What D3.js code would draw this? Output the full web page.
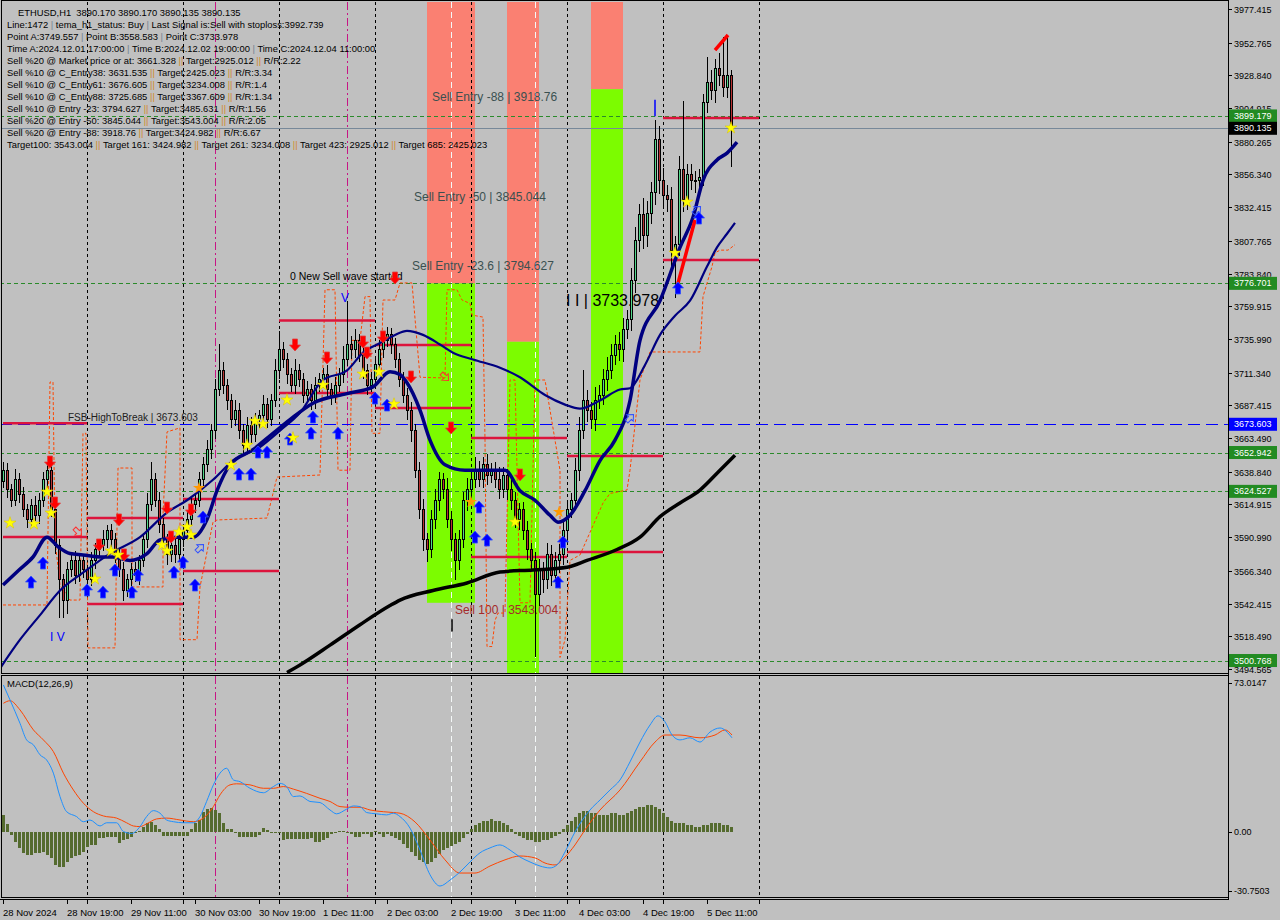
<!DOCTYPE html>
<html><head><meta charset="utf-8">
<script src="https://cdn.jsdelivr.net/npm/d3@7"></script>
<style>
body{margin:0;background:#c0c0c0;}
svg{display:block;font-family:"Liberation Sans",Arial,sans-serif;}
</style></head>
<body><svg id="c" width="1280" height="920"></svg>
<script>
// ---------------- DATA ----------------
const timeLabels=['28 Nov 2024','28 Nov 19:00','29 Nov 11:00','30 Nov 03:00','30 Nov 19:00','1 Dec 11:00','2 Dec 03:00','2 Dec 19:00','3 Dec 11:00','4 Dec 03:00','4 Dec 19:00','5 Dec 11:00'];
const timeLabelBars=[0,16,32,48,64,80,96,112,128,144,160,176];
const daySepBars=[21,45,69,93,117,141,165,189];
const magentaBars=[53,86];
const whiteBars=[112,133];
const priceTicks=[3977.415,3952.765,3928.840,3904.915,3880.265,3856.340,3832.415,3807.765,3783.840,3759.915,3735.990,3711.340,3687.415,3663.490,3638.840,3614.915,3590.990,3566.340,3542.415,3518.490,3494.565];
const macdTicks=[73.0147,0,-30.7503];
const macdTickLabels=['73.0147','0.00','-30.7503'];

const firstOpen=3632;
const closes=[3640,3626,3618,3633,3622,3611,3604,3614,3607,3618,
3633,3640,3611,3585,3560,3545,3567,3574,3563,3574,
3567,3560,3574,3582,3585,3589,3596,3589,3578,3567,
3552,3560,3567,3563,3574,3589,3615,3633,3618,3600,
3589,3578,3585,3578,3589,3596,3604,3615,3618,3633,
3644,3655,3669,3699,3713,3702,3691,3677,3684,3669,
3658,3673,3666,3677,3680,3688,3677,3691,3713,3728,
3721,3710,3702,3713,3706,3695,3699,3691,3702,3706,
3710,3699,3695,3702,3710,3721,3732,3728,3735,3724,
3713,3702,3706,3717,3728,3735,3739,3732,3721,3706,
3695,3684,3669,3640,3611,3589,3582,3604,3618,3633,
3626,3604,3589,3574,3589,3618,3626,3633,3640,3633,
3644,3636,3640,3633,3626,3636,3626,3618,3604,3611,
3596,3582,3574,3549,3567,3560,3578,3563,3574,3578,
3596,3611,3618,3640,3669,3691,3684,3677,3691,3695,
3706,3713,3724,3732,3728,3743,3750,3779,3808,3827,
3812,3828,3843,3882,3852,3841,3838,3801,3805,3860,
3838,3856,3852,3852,3854,3909,3924,3918,3934,3929,
3920,3929,3890.135];
const upWick=[6,5,4,8,5,6,4,5,7,5,
6,6,4,5,5,4,6,5,7,5,
5,4,6,5,5,7,4,5,5,4,
6,4,5,6,4,5,8,13,5,6,
5,4,6,5,5,4,6,5,5,6,
6,7,5,8,19,6,5,5,7,5,
5,6,6,5,4,7,5,5,8,14,
6,5,5,8,5,5,6,4,6,5,
5,7,5,6,5,10,32,6,8,5,
6,5,6,5,7,6,6,5,5,5,
6,5,6,5,6,8,5,7,8,6,
5,8,6,5,7,6,8,6,10,7,
6,8,5,6,9,6,5,8,6,5,
6,7,5,6,8,6,9,7,6,8,
7,6,5,9,10,22,8,6,10,7,
8,10,8,7,9,8,7,9,10,8,
12,9,8,14,10,9,8,9,6,10,
50,8,8,7,6,6,18,9,7,11,
28,28,4];
const downWick=[5,6,5,4,6,5,6,5,4,6,
5,6,5,6,28,13,10,5,6,5,
6,5,5,6,5,4,6,5,6,5,
8,5,6,5,7,5,6,5,5,6,
5,7,5,6,5,5,6,5,6,5,
6,5,7,6,5,6,7,6,5,6,
7,5,6,5,6,5,6,5,5,6,
6,7,5,6,5,6,5,7,6,5,
6,5,7,6,5,6,5,7,6,5,
6,7,5,6,5,6,5,7,6,5,
6,7,8,6,7,8,9,6,7,8,
7,6,8,14,7,6,8,7,6,5,
6,7,5,6,7,6,8,7,6,8,
7,8,6,46,8,10,7,8,6,9,
7,8,6,7,8,6,9,7,8,6,
7,8,6,7,8,9,7,8,9,8,
10,9,8,9,10,8,9,17,35,8,
9,8,7,9,8,6,8,7,9,8,
7,8,28];

// moving averages: [bar, price]
const fastMA=[[0,3556],[4,3567],[7.5,3576.5],[11,3591],[13.75,3584],[16.75,3579],[20,3578],[24.25,3576.5],[27.5,3576.5],[31.75,3574],[36,3579],[39.25,3589],[43.5,3591],[47.5,3591],[51,3604],[53.5,3625],[56.75,3644],[62.5,3655],[67.5,3667],[71.75,3677],[77.5,3689],[86,3696],[92.5,3701],[96.75,3712],[99.25,3710],[101,3704],[104.25,3684],[106.75,3662],[110.5,3644],[115.5,3640],[120.5,3640],[125.5,3640],[129.25,3625],[133,3618],[136.75,3607],[138.75,3602],[141.75,3607],[145.5,3625],[149.25,3647],[153,3662],[156.75,3691],[159.25,3735],[164.25,3764],[169.25,3803],[172.5,3825],[175,3852],[178.5,3867],[181,3872],[183.5,3880]];
const slowMA=[[-0.75,3495],[4.25,3516],[9.25,3534],[14.25,3552],[20,3565],[26.75,3579],[34.25,3591],[41,3609],[46,3618],[52.5,3633],[57.5,3647],[64.25,3657],[69.25,3669],[74.25,3682],[80,3706],[86,3713],[90,3726],[94.25,3733],[98,3739],[101,3742],[105,3739],[109.25,3732],[112.5,3726],[117.5,3721],[124.25,3715],[129.25,3708],[135.5,3695],[140.5,3688],[144.25,3685],[149.25,3691],[154.25,3699],[156.75,3700],[160.5,3717],[164.25,3739],[168,3753],[171.75,3764],[176,3789],[178.5,3803],[181,3813],[183,3821]];
const ma200=[[71,3492],[74.25,3497.5],[81.75,3512],[89.25,3527],[96.75,3541],[99.25,3545],[107.5,3552],[116,3557.5],[124.25,3565.5],[132.5,3567],[141,3569],[146,3574],[153.5,3582],[159.25,3591],[164.25,3606],[169.25,3616],[174.25,3625.5],[179.25,3640],[183,3651]];
const orangeStep=[[0,3541.4],[11,3541.4],[11.75,3704.5],[12.5,3704.5],[13,3589],[14.25,3556],[16.75,3545],[19.25,3545],[20,3667],[20.75,3667],[21.25,3510],[28,3510],[28.75,3641.6],[32.25,3641.6],[32.25,3554.6],[40,3554.6],[40,3607],[41,3668],[44.25,3671],[44.25,3516],[48.5,3516],[49.25,3554.6],[52.5,3602],[53.5,3603.6],[66,3605],[68.5,3635],[79.25,3636.5],[80.5,3772],[83,3772],[83.75,3640],[86.75,3640],[87.25,3735],[89.25,3735],[90.5,3767],[91.75,3767],[92.25,3667],[94.25,3667],[95,3764.5],[98,3764.5],[99.25,3777],[102.25,3777],[104.25,3708],[110.5,3707.5],[111,3772],[113.5,3772],[114.75,3764.5],[116.75,3762],[117.25,3753.5],[120,3752],[120.5,3662],[121,3511],[122.25,3511],[123,3530],[123.75,3535.5],[125.5,3535.5],[126.75,3706],[128,3706],[129.25,3543],[131.75,3543],[133,3706],[135.5,3706],[139.25,3640],[139.25,3503],[140.5,3516],[141.75,3574],[144.25,3578],[149.25,3611],[150,3616],[151.75,3623],[156,3625.5],[156.75,3640],[159.25,3706],[161.75,3726.5],[174.25,3726.5],[175,3767],[177.25,3789],[178,3799],[179.25,3801],[181.25,3801],[183,3805]];

// MACD
const macdHist=[7.8,3.5,-1.7,-4.7,-7.8,-10.2,-11.0,-11.0,-10.2,-10.2,
-9.5,-11.0,-12.5,-15.7,-16.5,-16.5,-14.1,-12.5,-11.5,-11.0,
-9.5,-7.1,-6.3,-6.3,-3.2,-3.2,-2.4,-2.4,-2.4,-5.2,
-4.0,-3.7,-2.4,-0.5,0.2,2.3,3.8,4.6,3.1,1.0,
-1.9,-1.9,-1.9,-1.9,-1.9,-1.9,-1.9,1.0,3.8,5.4,
9.3,10.4,10.9,10.1,8.6,3.8,1.2,1.2,-0.5,-2.4,
-2.4,-2.4,-2.4,-2.4,-1.7,1.5,0.9,0.0,-0.5,-0.5,
-4.0,-3.7,-3.5,-3.5,-3.7,-3.7,-3.7,-2.9,-4.7,-4.7,
-4.0,-3.2,-1.0,0.0,0.3,0.4,-0.4,-1.0,-2.4,-2.4,
-1.3,-1.3,-2.4,0.4,-1.0,-2.4,-1.0,-2.2,-2.9,-3.9,
-5.8,-7.7,-9.6,-11.5,-13.4,-14.4,-15.4,-14.4,-12.5,-10.6,
-8.7,-7.7,-6.7,-5.8,-4.8,-2.9,-1.0,1.0,2.9,3.9,
4.8,4.8,5.8,4.8,4.8,3.9,2.9,1.0,-1.0,-1.9,
-2.9,-3.9,-3.9,-4.8,-4.8,-3.9,-3.9,-2.9,-1.9,-1.0,
1.0,2.9,4.8,6.7,8.7,9.6,9.6,8.7,8.7,7.7,
7.7,7.7,8.7,8.7,7.7,7.7,8.7,9.6,10.6,11.5,
11.5,12.5,12.5,11.5,10.6,8.7,6.7,4.8,3.9,3.9,
3.9,2.9,2.9,1.9,1.9,2.9,2.9,3.9,3.9,3.9,
2.9,2.9,1.9];
const macdLine=[[0.1,68.8],[1.75,61.8],[4.25,50.8],[5.9,43.0],[7.6,40.7],[9.25,36.0],[10.9,33.6],[12.6,27.4],[14.25,16.4],[15.9,9.3],[18.4,7.0],[20.1,4.6],[21.75,5.4],[24.25,2.6],[25.9,4.1],[28.4,4.1],[30.1,0],[32.2,-0.9],[34.25,2.3],[35.9,7.0],[37.6,9.8],[39.25,8.6],[40.9,5.4],[42.6,4.6],[45.1,4.1],[47.6,4.1],[49.25,7.0],[50.9,14.1],[52.6,21.9],[54.25,27.4],[55.9,29.7],[57.6,24.2],[59.25,23.4],[61.75,20.3],[65.1,18.2],[67.6,21.1],[69.25,22.6],[70.9,21.1],[72.6,16.4],[74.25,16.7],[76.75,14.1],[79.25,13.6],[81.75,10.1],[83.4,8.3],[85.9,10.5],[87.6,12.0],[89.25,11.7],[90.9,8.9],[93.4,8.3],[95.9,7.8],[97.6,8.6],[99.25,7.0],[101.75,1.6],[104.25,-8.7],[106.75,-20.3],[109.25,-25.6],[111.75,-22.8],[114.25,-19.0],[116.75,-14.3],[119.25,-10.0],[121.75,-7.7],[124.25,-6.3],[126.75,-8.7],[129.25,-12.0],[131.75,-14.3],[134.25,-16.2],[136.75,-17.1],[138.5,-15.7],[140.5,-9.6],[143,-0.2],[146.75,10.1],[149.25,14.8],[151.75,19.5],[154.25,24.2],[156.75,32.7],[159.25,42.0],[161.75,50.0],[163.75,54.3],[165.5,51.5],[167.25,45.3],[169.25,43.0],[171.75,44.0],[174.25,42.0],[176.75,46.7],[179.25,48.6],[182.25,44.0]];
const signalLine=[[0.1,60.2],[1.75,61.4],[4.25,57.1],[7.6,47.7],[10.1,43.0],[12.6,37.5],[15.1,27.4],[17.6,19.5],[20.1,13.3],[22.6,9.3],[25.1,7.3],[28.4,6.3],[30.9,4.1],[32.6,2.6],[34.25,2.3],[35.9,3.6],[38.4,5.9],[40.9,6.3],[44.25,5.4],[47.6,4.6],[50.1,6.3],[52.6,11.7],[54.25,17.2],[56.75,21.9],[58.4,22.4],[61.75,21.9],[65.1,20.3],[67.6,20.3],[70.1,21.1],[72.6,19.9],[75.9,17.9],[79.25,15.6],[81.75,14.1],[84.25,11.7],[86.75,11.4],[89.25,11.4],[91.75,10.1],[95.1,9.3],[97.6,8.9],[99.25,8.6],[103,4.5],[106.75,-4.0],[110.5,-13.3],[114.25,-19.5],[118,-19.5],[121.75,-16.2],[125.5,-13.3],[129.25,-11.5],[133,-12.4],[135.5,-14.8],[138,-15.7],[140.5,-12.0],[143,-6.3],[145.5,0.8],[149.25,10.1],[154.25,19.5],[159.25,32.7],[163,42.0],[165.5,45.3],[169.25,45.3],[174.25,44.0],[178,45.3],[180.5,47.7],[182.25,45.3]];

// levels & zones
const dayLevelFrom=[0,21,45,69,93,117,141,165];
const dayLevelTo=[21,45,69,93,117,141,165,189];
const dayHighs=[3674.3,3605.0,3618.9,3749.6,3731.6,3663.6,3650.4,3897.7];
const dayLows=[3591.1,3542.1,3566.2,3696.5,3685.5,3576.5,3580.2,3793.8];
const zoneFrom=[106,126,147];
const zoneTo=[118,134,155];
const zoneMid=[3776.701,3733.978,3918.76];
const zoneLow=[3543.004,3490,3490];
const greenLevels=[3899.179,3776.701,3652.942,3624.527,3500.768];
const fsbLevel=3673.603;
const bidPrice=3890.135;

// signal markers [bar, price]
const sellArrows=[[11.75,3646],[13,3616],[24,3585.3],[29,3603.6],[30.25,3578],[41,3612.3],[42,3591.1],[47,3610.9],[73,3731.6],[81,3722.1],[90,3733.8],[91,3725.7],[95,3737.5],[98,3780.6],[102,3708.2],[112,3670.9],[129.25,3636.5]];
const buyArrows=[[7,3558.2],[10,3572.1],[21,3552.4],[25,3550.9],[28,3567],[32.25,3550.9],[33.75,3563.3],[42.75,3565.5],[45,3572.8],[48,3556],[50,3605.8],[59,3637.2],[62,3637.2],[63.75,3653.3],[66,3653.3],[71.75,3662.8],[77,3667.2],[77.5,3678.9],[83.75,3667.2],[93,3692.8],[96,3687.7],[119,3613.1],[118,3591.1],[121,3588.9],[140,3587.5],[138.75,3558.2],[168.75,3773.3],[174,3824.5]];
const yellowStars=[[1.75,3601.4],[7.75,3600.6],[11,3624.1],[12,3608.7],[23,3560.4],[27,3580.9],[28.75,3578],[39.75,3585.3],[41,3580.9],[44,3594.8],[46,3598.5],[47,3592.6],[57,3643.8],[61,3658.4],[63,3676],[65,3673.8],[71,3691.4],[72.5,3663.6],[80,3702.3],[90,3710.4],[94,3711.8],[97.75,3688.4],[128,3602.1],[168,3798.9],[171,3836.2],[182,3890.4]];
const orangeStars=[[117,3616.7],[139,3609.4],[49,3627]];
const hollowSell=[[18.75,3594.8],[110.5,3708.2]];
const hollowBuy=[[49.25,3583.1],[156.75,3678.2],[173.5,3830.4]];
const redTrends=[[[168.5,3774],[173,3823]],[[178,3947.4],[181.25,3958.4]]];

const infoLines=[
'ETHUSD,H1  3890.170 3890.170 3890.135 3890.135',
'Line:1472 | tema_h1_status: Buy | Last Signal is:Sell with stoploss:3992.739',
'Point A:3749.557 | Point B:3558.583 | Point C:3733.978',
'Time A:2024.12.01 17:00:00 | Time B:2024.12.02 19:00:00 | Time C:2024.12.04 11:00:00',
'Sell %20 @ Market price or at: 3661.328 || Target:2925.012 || R/R:2.22',
'Sell %10 @ C_Entry38: 3631.535 || Target:2425.023 || R/R:3.34',
'Sell %10 @ C_Entry61: 3676.605 || Target:3234.008 || R/R:1.4',
'Sell %10 @ C_Entry88: 3725.685 || Target:3367.609 || R/R:1.34',
'Sell %10 @ Entry -23: 3794.627 || Target:3485.631 || R/R:1.56',
'Sell %20 @ Entry -50: 3845.044 || Target:3543.004 || R/R:2.05',
'Sell %20 @ Entry -88: 3918.76 || Target:3424.982 || R/R:6.67',
'Target100: 3543.004 || Target 161: 3424.982 || Target 261: 3234.008 || Target 423: 2925.012 || Target 685: 2425.023'];

const chartTexts=[
 {t:'Sell Entry -88 | 3918.76',bar:107.25,p:3913,c:'#3a5050',s:12},
 {t:'Sell Entry -50 | 3845.044',bar:102.75,p:3840,c:'#3a5050',s:12},
 {t:'Sell Entry -23.6 | 3794.627',bar:102.25,p:3789.4,c:'#3a5050',s:12},
 {t:'0 New Sell wave started',bar:71.75,p:3782,c:'#000000',s:10.5},
 {t:'I I | 3733.978',bar:140.75,p:3763.8,c:'#000000',s:16},
 {t:'Sell 100 | 3543.004',bar:113,p:3537.7,c:'#a52a2a',s:12},
 {t:'FSB-HighToBreak | 3673.603',bar:16.25,p:3678.2,c:'#202020',s:10},
 {t:'I V',bar:11.75,p:3518,c:'#0000ff',s:12},
 {t:'V',bar:84.5,p:3766,c:'#0000ff',s:12}];
const tickMarks=[{bar:163,p1:3899,p2:3911,c:'#0000ff'},{bar:112.25,p1:3522,p2:3531,c:'#000000'}];

// ---------------- DRAW ----------------
const svg=d3.select('#c');
const R=1228, mainT=2, mainB=673, macdT=676, macdB=897;
const x=d3.scaleLinear().domain([0,1]).range([3,7]);
const y=d3.scaleLinear().domain([3494.565,3977.415]).range([669,9]);
const ym=d3.scaleLinear().domain([-30.7503,73.0147]).range([macdB,macdT]);

svg.append('rect').attr('width',1280).attr('height',920).attr('fill','#c0c0c0');
const defs=svg.append('defs');
defs.append('clipPath').attr('id','cm').append('rect').attr('x',2).attr('y',mainT).attr('width',R-2).attr('height',mainB-mainT);
defs.append('clipPath').attr('id','cd').append('rect').attr('x',2).attr('y',macdT).attr('width',R-2).attr('height',macdB-macdT);
const gm=svg.append('g').attr('clip-path','url(#cm)');
const gd=svg.append('g').attr('clip-path','url(#cd)');

// zones
zoneFrom.forEach((f,k)=>{
  gm.append('rect').attr('x',x(f)).attr('width',x(zoneTo[k])-x(f)).attr('y',mainT).attr('height',y(zoneMid[k])-mainT).attr('fill','#fa8072');
  gm.append('rect').attr('x',x(f)).attr('width',x(zoneTo[k])-x(f)).attr('y',y(zoneMid[k])).attr('height',y(zoneLow[k])-y(zoneMid[k])).attr('fill','#7cfc00');
});

// vertical lines in both panels
[[gm,mainT,mainB],[gd,macdT,macdB]].forEach(([g,t,b])=>{
  daySepBars.forEach(d=>g.append('line').attr('x1',x(d)+0.5).attr('x2',x(d)+0.5).attr('y1',t).attr('y2',b).attr('stroke','#000').attr('stroke-dasharray','3,3'));
  magentaBars.forEach(d=>g.append('line').attr('x1',x(d)+0.5).attr('x2',x(d)+0.5).attr('y1',t).attr('y2',b).attr('stroke','#c71585').attr('stroke-dasharray','8,3,2,3'));
  whiteBars.forEach(d=>g.append('line').attr('x1',x(d)+0.5).attr('x2',x(d)+0.5).attr('y1',t).attr('y2',b).attr('stroke','#f4f8f8').attr('stroke-dasharray','6,4'));
});

// horizontal levels
greenLevels.forEach(p=>gm.append('line').attr('x1',0).attr('x2',R).attr('y1',Math.round(y(p))+0.5).attr('y2',Math.round(y(p))+0.5).attr('stroke','#2a8a2a').attr('stroke-dasharray','4,3'));
gm.append('line').attr('x1',0).attr('x2',R).attr('y1',Math.round(y(fsbLevel))+0.5).attr('y2',Math.round(y(fsbLevel))+0.5).attr('stroke','#0000ff').attr('stroke-dasharray','12,6');
gm.append('line').attr('x1',0).attr('x2',R).attr('y1',Math.round(y(bidPrice))+0.5).attr('y2',Math.round(y(bidPrice))+0.5).attr('stroke','#778899');

// chart texts (behind candles)
chartTexts.forEach(d=>gm.append('text').attr('x',x(d.bar)).attr('y',y(d.p)).attr('dominant-baseline','central').attr('fill',d.c).attr('font-size',d.s).text(d.t));

// orange step line
const lineP=d3.line().x(d=>x(d[0])).y(d=>y(d[1]));
gm.append('path').attr('d',lineP(orangeStep)).attr('fill','none').attr('stroke','#ff4500').attr('stroke-width',1).attr('stroke-dasharray','3,2');

// daily levels
dayLevelFrom.forEach((f,k)=>{
  [dayHighs[k],dayLows[k]].forEach(p=>gm.append('line').attr('x1',x(f)).attr('x2',x(dayLevelTo[k])).attr('y1',y(p)).attr('y2',y(p)).attr('stroke','#dc143c').attr('stroke-width',2.5));
});

// candles
const cg=gm.append('g').attr('shape-rendering','crispEdges');
closes.forEach((c,i)=>{
  const o=i===0?firstOpen:closes[i-1];
  const hi=Math.max(o,c)+upWick[i], lo=Math.min(o,c)-downWick[i];
  const cx=Math.round(x(i));
  cg.append('line').attr('x1',cx+0.5).attr('x2',cx+0.5).attr('y1',y(hi)).attr('y2',y(lo)).attr('stroke','#000');
  const top=y(Math.max(o,c)), bot=y(Math.min(o,c));
  cg.append('rect').attr('x',cx-0.5).attr('width',2).attr('y',top).attr('height',Math.max(1,bot-top))
    .attr('fill',c>=o?'#52d88a':'#b83232').attr('stroke','#000').attr('stroke-width',1);
});

// moving averages
const curveP=d3.line().x(d=>x(d[0])).y(d=>y(d[1])).curve(d3.curveMonotoneX);
gm.append('path').attr('d',curveP(ma200)).attr('fill','none').attr('stroke','#000').attr('stroke-width',3.5);
gm.append('path').attr('d',curveP(slowMA)).attr('fill','none').attr('stroke','#000080').attr('stroke-width',2.2);
gm.append('path').attr('d',curveP(fastMA)).attr('fill','none').attr('stroke','#000080').attr('stroke-width',3.5);

// red trend segments
redTrends.forEach(s=>gm.append('path').attr('d',lineP(s)).attr('stroke','#ff0000').attr('stroke-width',3.5).attr('fill','none'));

// small tick marks
tickMarks.forEach(d=>gm.append('line').attr('x1',x(d.bar)).attr('x2',x(d.bar)).attr('y1',y(d.p1)).attr('y2',y(d.p2)).attr('stroke',d.c).attr('stroke-width',1.5));

// markers
const downArrow='M-2.5,-6L2.5,-6L2.5,0L5.5,0L0,6L-5.5,0L-2.5,0Z';
const upArrow='M-2.5,6L2.5,6L2.5,0L5.5,0L0,-6L-5.5,0L-2.5,0Z';
sellArrows.forEach(d=>gm.append('path').attr('d',downArrow).attr('transform',`translate(${x(d[0])},${y(d[1])})`).attr('fill','#ff0000').attr('stroke','#e04040').attr('stroke-width',0.8));
buyArrows.forEach(d=>gm.append('path').attr('d',upArrow).attr('transform',`translate(${x(d[0])},${y(d[1])})`).attr('fill','#0000ff').attr('stroke','#3050ff').attr('stroke-width',0.8));
const star=d3.symbol(d3.symbolStar).size(45)();
yellowStars.forEach(d=>gm.append('path').attr('d',star).attr('transform',`translate(${x(d[0])},${y(d[1])})`).attr('fill','#ffff00').attr('stroke','#d8c000').attr('stroke-width',0.5));
orangeStars.forEach(d=>gm.append('path').attr('d',star).attr('transform',`translate(${x(d[0])},${y(d[1])})`).attr('fill','#ff9900'));
const hollow='M-2,-5L2,-5L2,0L4.5,0L0,5L-4.5,0L-2,0Z';
hollowSell.forEach(d=>gm.append('path').attr('d',hollow).attr('transform',`translate(${x(d[0])},${y(d[1])}) rotate(-45)`).attr('fill','none').attr('stroke','#ff3030'));
hollowBuy.forEach(d=>gm.append('path').attr('d',hollow).attr('transform',`translate(${x(d[0])},${y(d[1])}) rotate(-135)`).attr('fill','none').attr('stroke','#3050ff'));

// MACD panel
gd.append('g').attr('shape-rendering','crispEdges').selectAll('rect').data(macdHist).join('rect')
  .attr('x',(d,i)=>Math.round(x(i))-1).attr('width',3)
  .attr('y',d=>Math.min(ym(d),ym(0))).attr('height',d=>Math.max(1,Math.abs(ym(d)-ym(0))))
  .attr('fill','#556b2f');
const mLine=d3.line().x(d=>x(d[0])).y(d=>ym(d[1])).curve(d3.curveMonotoneX);
gd.append('path').attr('d',mLine(signalLine)).attr('fill','none').attr('stroke','#ff4500').attr('stroke-width',1);
gd.append('path').attr('d',mLine(macdLine)).attr('fill','none').attr('stroke','#1e90ff').attr('stroke-width',1);
svg.append('text').attr('x',7).attr('y',683).attr('dominant-baseline','central').attr('font-size',9.5).attr('fill','#000').text('MACD(12,26,9)');

// info text block
const it=svg.append('g').attr('font-size',9.4);
infoLines.forEach((l,k)=>{
  const t=it.append('text').attr('x',k===0?18:7).attr('y',11.5+12.05*k).attr('dominant-baseline','central').attr('fill','#000').attr('xml:space','preserve');
  l.split(/( \|\| | \| )/).forEach(part=>{
    if(part===' || ') t.append('tspan').attr('fill','#d2882a').text(' || ');
    else if(part===' | ') t.append('tspan').attr('fill','#708090').text(' | ');
    else t.append('tspan').text(part);
  });
});

// frames
svg.append('rect').attr('x',1.5).attr('y',0.5).attr('width',R-1).attr('height',mainB).attr('fill','none').attr('stroke','#000');
svg.append('rect').attr('x',1.5).attr('y',macdT-0.5).attr('width',R-1).attr('height',macdB-macdT+1).attr('fill','none').attr('stroke','#000');
svg.append('line').attr('x1',0).attr('x2',R+1).attr('y1',899.5).attr('y2',899.5).attr('stroke','#000');

// price axis
const boxes=[[3899.179,'#228b22'],[3776.701,'#228b22'],[3673.603,'#0000ff'],[3652.942,'#228b22'],[3624.527,'#228b22'],[3500.768,'#228b22'],[3890.135,'#000000']];
const pa=svg.append('g').attr('font-size',9);
priceTicks.forEach((p,k)=>{
  const yy=Math.round(y(p))+0.5;
  pa.append('line').attr('x1',R).attr('x2',R+4).attr('y1',yy).attr('y2',yy).attr('stroke','#000');
  // a tick label half-covered by a coloured box keeps only its visible strip
  const cover=boxes.find(b=>Math.abs(y(b[0])-yy)<11);
  const tx=pa.append('text').attr('x',R+6).attr('y',yy).attr('dominant-baseline','central').attr('fill','#000').text(p.toFixed(3));
  if(cover){
    const by=y(cover[0]);
    const cid='tc'+k;
    const cp=defs.append('clipPath').attr('id',cid).append('rect').attr('x',R+1).attr('width',52);
    if(by>yy){cp.attr('y',yy-8).attr('height',Math.max(0,by-6.5-(yy-8)));}
    else {cp.attr('y',by+6.5).attr('height',Math.max(0,yy+8-(by+6.5)));}
    tx.attr('clip-path',`url(#${cid})`);
  }
});
boxes.forEach(([p,c])=>{
  const yy=y(p);
  pa.append('rect').attr('x',R+1).attr('y',yy-6.5).attr('width',48).attr('height',13).attr('fill',c);
  pa.append('text').attr('x',R+6).attr('y',yy).attr('dominant-baseline','central').attr('fill','#fff').text(p.toFixed(3));
});
// macd axis
macdTicks.forEach((v,k)=>{
  let yy=ym(v); if(k===0) yy+=7; if(k===2) yy-=6;
  pa.append('line').attr('x1',R).attr('x2',R+4).attr('y1',Math.round(yy)+0.5).attr('y2',Math.round(yy)+0.5).attr('stroke','#000');
  pa.append('text').attr('x',R+6).attr('y',yy).attr('dominant-baseline','central').attr('fill','#000').text(macdTickLabels[k]);
});
svg.append('line').attr('x1',R+0.5).attr('x2',R+0.5).attr('y1',0).attr('y2',900).attr('stroke','#000');

// time axis
const ta=svg.append('g').attr('font-size',9.5);
timeLabelBars.concat(daySepBars).forEach(b=>{
  const xx=Math.round(x(b))+0.5;
  if(xx<R) ta.append('line').attr('x1',xx).attr('x2',xx).attr('y1',899).attr('y2',904).attr('stroke','#000');
});
timeLabels.forEach((t,k)=>ta.append('text').attr('x',x(timeLabelBars[k])).attr('y',912).attr('dominant-baseline','central').attr('fill','#000').text(t));
</script></body></html>
